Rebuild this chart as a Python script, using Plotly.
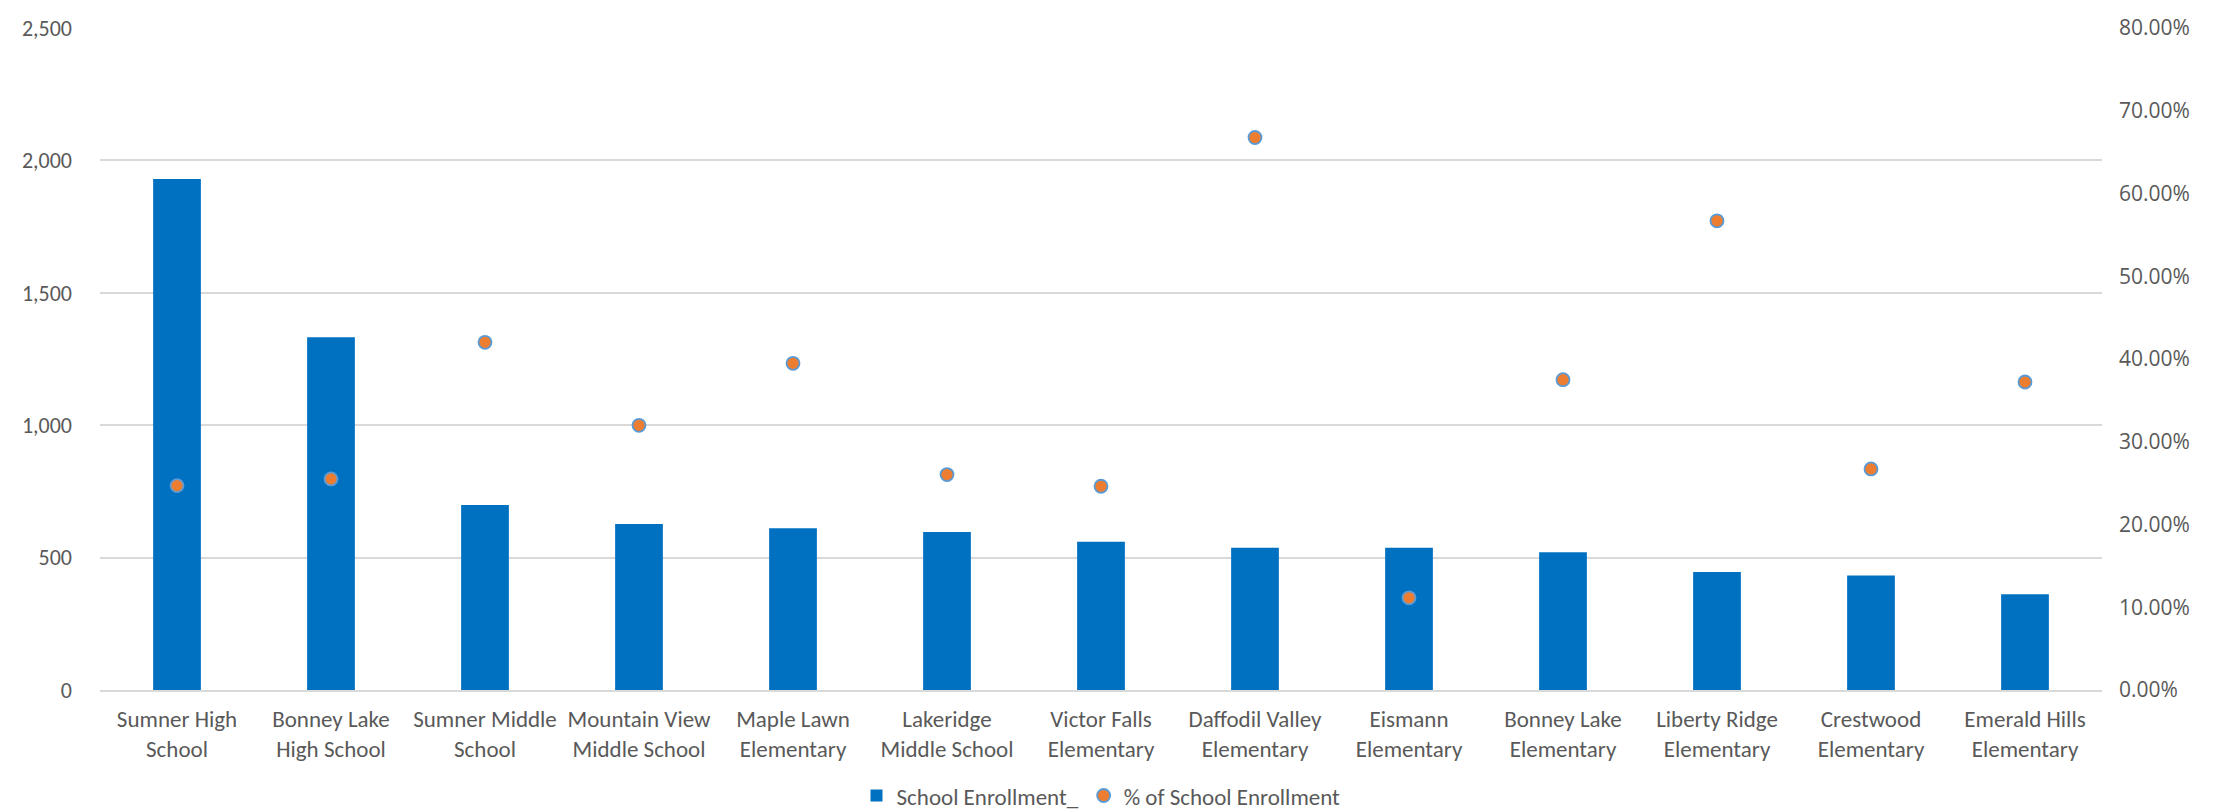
import plotly.graph_objects as go

schools = ["Sumner High School", "Bonney Lake High School", "Sumner Middle School",
           "Mountain View Middle School", "Maple Lawn Elementary", "Lakeridge Middle School",
           "Victor Falls Elementary", "Daffodil Valley Elementary", "Eismann Elementary",
           "Bonney Lake Elementary", "Liberty Ridge Elementary", "Crestwood Elementary",
           "Emerald Hills Elementary"]
tick_labels = ["Sumner High<br>School", "Bonney Lake<br>High School", "Sumner Middle<br>School",
               "Mountain View<br>Middle School", "Maple Lawn<br>Elementary", "Lakeridge<br>Middle School",
               "Victor Falls<br>Elementary", "Daffodil Valley<br>Elementary", "Eismann<br>Elementary",
               "Bonney Lake<br>Elementary", "Liberty Ridge<br>Elementary", "Crestwood<br>Elementary",
               "Emerald Hills<br>Elementary"]
enrollment = [1930, 1332, 699, 627, 611, 597, 560, 537, 537, 520, 446, 432, 362]
pct_enrollment = [0.2470, 0.2551, 0.4202, 0.3199, 0.3948, 0.2603, 0.2462, 0.6677, 0.1114,
                  0.3750, 0.5670, 0.2671, 0.3722]

FONT = "Calibri, Carlito, Lato, sans-serif"
FONT_R = "'Open Sans', sans-serif"
TXT = "#595959"

fig = go.Figure()
fig.add_trace(go.Bar(
    x=schools, y=enrollment, name="School Enrollment_",
    marker=dict(color="#0070C0", line=dict(width=0)),
    yaxis="y",
))
fig.add_trace(go.Scatter(
    x=schools, y=pct_enrollment, name="% of School Enrollment",
    mode="markers",
    marker=dict(color="#ED7D31", size=13, line=dict(color="#5B9BD5", width=1.8)),
    yaxis="y2",
))

fig.update_layout(
    width=2221, height=809,
    margin=dict(l=92, r=127, t=20, b=127, autoexpand=False),
    paper_bgcolor="white", plot_bgcolor="white",
    font=dict(family=FONT, size=23, color=TXT),
    bargap=0.69,
    showlegend=True,
    legend=dict(orientation="h", x=0.5, xanchor="center", y=-0.127, yanchor="top",
                font=dict(family=FONT, size=23, color=TXT), itemwidth=30,
                bgcolor="rgba(0,0,0,0)"),
    xaxis=dict(
        tickmode="array", tickvals=schools, ticktext=tick_labels,
        range=[-0.5, len(schools) - 0.5],
        showgrid=False, showline=True, linecolor="#D9D9D9", linewidth=2,
        ticks="", ticklabelstandoff=7, tickangle=0,
        tickfont=dict(family=FONT, size=23, color=TXT),
    ),
    yaxis=dict(
        range=[0, 2500], dtick=500, tickformat=",",
        showgrid=True, gridcolor="#D9D9D9", gridwidth=2,
        zeroline=False, showline=False, ticks="", ticklabelstandoff=27,
        tickfont=dict(family=FONT, size=22, color=TXT),
    ),
    yaxis2=dict(
        range=[0, 0.8], dtick=0.1, tickformat=".2%",
        overlaying="y", side="right", showgrid=False, zeroline=False,
        showline=False, ticks="", ticklabelstandoff=16,
        tickfont=dict(family=FONT_R, size=21, color=TXT),
    ),
)

fig.write_html("out.html")
